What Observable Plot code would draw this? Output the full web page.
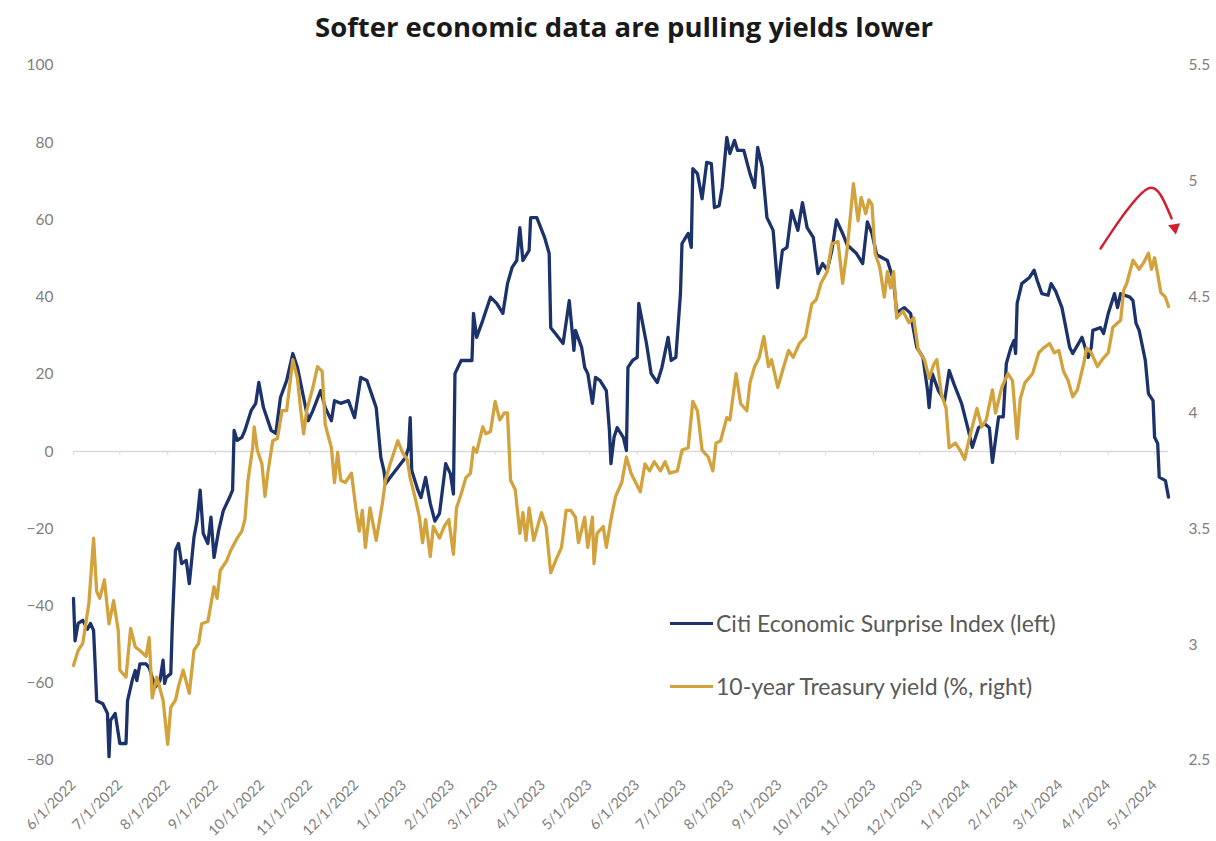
<!DOCTYPE html>
<html>
<head>
<meta charset="utf-8">
<script src="https://cdn.jsdelivr.net/npm/d3@7"></script>
<script src="https://cdn.jsdelivr.net/npm/@observablehq/plot@0.6"></script>
<style>
  html, body { margin: 0; padding: 0; background: #fff; }
  #wrap { position: relative; width: 1216px; height: 841px; overflow: hidden; font-family: "Open Sans", sans-serif; }
  #title { height: 52px; line-height: 54px; text-align: center; padding-left: 32px; font-size: 27.5px; font-weight: 700; color: #1a1a1a; white-space: nowrap; }
  #legend { position: absolute; left: 670px; top: 606px; font-family: Lato, sans-serif; font-size: 23px; color: #595959; }
  .row { display: flex; align-items: center; height: 34px; margin-bottom: 29px; white-space: nowrap; }
  .sw { width: 43px; height: 3px; margin-right: 3px; }
</style>
</head>
<body>
<div id="wrap">
  <div id="title">Softer economic data are pulling yields lower</div>
  <div id="chart"></div>
  <div id="legend"></div>
</div>
<script>
// Citi Economic Surprise Index (left axis)
const cesi = [["2022-06-01",-38],["2022-06-02",-49],["2022-06-04",-44.5],["2022-06-07",-43.7],["2022-06-10",-46],["2022-06-12",-44.5],["2022-06-14",-46.3],["2022-06-15",-55],["2022-06-16",-64.5],["2022-06-20",-65.3],["2022-06-23",-67.8],["2022-06-24",-79],["2022-06-25",-69.6],["2022-06-28",-67.8],["2022-07-01",-75.6],["2022-07-05",-75.6],["2022-07-06",-64.5],["2022-07-09",-59.3],["2022-07-11",-56.7],["2022-07-12",-59.3],["2022-07-14",-55],["2022-07-18",-55],["2022-07-20",-56],["2022-07-24",-61],["2022-07-27",-59.3],["2022-07-29",-54],["2022-07-30",-60],["2022-07-31",-58.5],["2022-08-03",-57.5],["2022-08-04",-44.5],["2022-08-06",-25.6],["2022-08-08",-23.8],["2022-08-10",-29],["2022-08-13",-28.2],["2022-08-15",-34.2],["2022-08-18",-22.2],["2022-08-20",-17.8],["2022-08-22",-10],["2022-08-24",-21.2],["2022-08-27",-23.8],["2022-08-29",-17],["2022-08-31",-27.4],["2022-09-03",-20.4],["2022-09-06",-15.3],["2022-09-10",-11.9],["2022-09-12",-10],["2022-09-13",5.5],["2022-09-15",2.9],["2022-09-18",3.7],["2022-09-20",5.5],["2022-09-24",10.6],["2022-09-27",12.5],["2022-09-29",17.9],["2022-10-02",11.4],["2022-10-07",5.5],["2022-10-10",4.7],["2022-10-13",14],["2022-10-17",18.4],["2022-10-21",25.4],["2022-10-24",21.8],["2022-10-28",14],["2022-10-31",8],["2022-11-03",10.6],["2022-11-08",15.8],["2022-11-11",11.4],["2022-11-15",8],["2022-11-17",13.2],["2022-11-21",12.5],["2022-11-26",13.2],["2022-11-30",8.8],["2022-12-04",19.2],["2022-12-08",18.4],["2022-12-14",11.4],["2022-12-17",-1.5],["2022-12-19",-4.9],["2022-12-20",-8.3],["2022-12-23",-6.7],["2022-12-28",-4.1],["2023-01-02",-1.5],["2023-01-04",1.1],["2023-01-05",8.8],["2023-01-06",-4.9],["2023-01-10",-10],["2023-01-12",-11.9],["2023-01-15",-6.7],["2023-01-18",-13.4],["2023-01-21",-18],["2023-01-24",-16],["2023-01-28",-3.1],["2023-01-31",-5.7],["2023-02-02",-11],["2023-02-03",20.2],["2023-02-07",23.6],["2023-02-14",23.6],["2023-02-15",35.8],["2023-02-17",29.6],["2023-02-21",34],["2023-02-26",40],["2023-03-02",38.4],["2023-03-06",35.8],["2023-03-09",43.5],["2023-03-12",47.7],["2023-03-15",49.5],["2023-03-17",58],["2023-03-19",49.5],["2023-03-23",52.1],["2023-03-24",60.6],["2023-03-28",60.6],["2023-04-02",55.5],["2023-04-05",51.3],["2023-04-06",32.1],["2023-04-09",30.6],["2023-04-14",28],["2023-04-18",39.1],["2023-04-20",30.6],["2023-04-21",26.2],["2023-04-22",31.4],["2023-04-26",27],["2023-04-28",21.8],["2023-04-30",20.2],["2023-05-03",12.5],["2023-05-05",19.2],["2023-05-08",18.4],["2023-05-12",15.8],["2023-05-14",5.5],["2023-05-15",-3.1],["2023-05-17",3.7],["2023-05-19",6.2],["2023-05-23",3.7],["2023-05-25",0.3],["2023-05-26",21.8],["2023-05-29",23.6],["2023-06-01",24.4],["2023-06-02",38.4],["2023-06-07",28],["2023-06-10",20.2],["2023-06-14",17.9],["2023-06-17",21.8],["2023-06-21",29.6],["2023-06-23",23.6],["2023-06-26",24.4],["2023-06-29",40.9],["2023-06-30",53.9],["2023-07-04",56.5],["2023-07-06",52.9],["2023-07-07",73.3],["2023-07-10",72],["2023-07-13",65.5],["2023-07-16",74.9],["2023-07-19",74.6],["2023-07-21",63.2],["2023-07-24",63.7],["2023-07-26",68.4],["2023-07-29",81.4],["2023-07-31",77.2],["2023-08-03",80.6],["2023-08-05",78],["2023-08-09",78],["2023-08-13",72],["2023-08-16",68.4],["2023-08-18",78.8],["2023-08-21",73.6],["2023-08-24",60.6],["2023-08-28",57.3],["2023-08-31",42.5],["2023-09-03",52.1],["2023-09-06",52.9],["2023-09-09",62.4],["2023-09-13",57.3],["2023-09-16",64.5],["2023-09-19",58],["2023-09-23",55.5],["2023-09-26",46.1],["2023-09-29",48.7],["2023-10-02",47],["2023-10-05",52],["2023-10-08",60],["2023-10-12",56.5],["2023-10-15",53.5],["2023-10-21",51.3],["2023-10-25",48.7],["2023-10-28",59.5],["2023-10-31",56.5],["2023-11-03",51],["2023-11-10",49.5],["2023-11-14",44.3],["2023-11-16",36],["2023-11-21",37.3],["2023-11-25",35.8],["2023-11-29",27],["2023-12-03",24.4],["2023-12-06",15.8],["2023-12-07",11.4],["2023-12-09",20.2],["2023-12-13",15.8],["2023-12-17",13.2],["2023-12-20",21],["2023-12-23",17.6],["2023-12-28",12.5],["2024-01-01",6.2],["2024-01-04",1.1],["2024-01-08",6.2],["2024-01-12",7.2],["2024-01-15",6.2],["2024-01-17",-2.8],["2024-01-21",9],["2024-01-24",9],["2024-01-26",22.8],["2024-01-29",27],["2024-01-31",28.8],["2024-02-01",25.4],["2024-02-02",38.4],["2024-02-05",43.5],["2024-02-10",45.1],["2024-02-13",47],["2024-02-15",44.3],["2024-02-18",40.9],["2024-02-22",40.5],["2024-02-24",43.5],["2024-02-27",41.5],["2024-03-02",37.3],["2024-03-04",33.2],["2024-03-07",27],["2024-03-09",25.4],["2024-03-15",29.6],["2024-03-19",24.4],["2024-03-21",27],["2024-03-22",31.4],["2024-03-27",32.1],["2024-03-29",30.6],["2024-04-01",35.8],["2024-04-05",40.9],["2024-04-07",37.3],["2024-04-09",40.9],["2024-04-15",40],["2024-04-17",39.1],["2024-04-19",33.2],["2024-04-21",31.4],["2024-04-25",23.6],["2024-04-27",15],["2024-04-30",13.2],["2024-05-01",3.7],["2024-05-03",2.1],["2024-05-04",-6.6],["2024-05-08",-7.5],["2024-05-10",-11.8]];

// 10-year Treasury yield, % (right axis)
const yield10 = [["2022-06-01",2.91],["2022-06-04",2.975],["2022-06-07",3.005],["2022-06-11",3.18],["2022-06-14",3.46],["2022-06-16",3.23],["2022-06-18",3.2],["2022-06-21",3.28],["2022-06-24",3.09],["2022-06-27",3.19],["2022-06-30",3.06],["2022-07-01",2.89],["2022-07-05",2.86],["2022-07-08",3.07],["2022-07-11",2.99],["2022-07-14",2.975],["2022-07-18",2.95],["2022-07-20",3.03],["2022-07-22",2.77],["2022-07-25",2.86],["2022-07-29",2.76],["2022-08-01",2.57],["2022-08-03",2.73],["2022-08-06",2.76],["2022-08-08",2.82],["2022-08-11",2.89],["2022-08-15",2.79],["2022-08-18",2.975],["2022-08-21",3.005],["2022-08-23",3.09],["2022-08-27",3.1],["2022-08-31",3.25],["2022-09-02",3.2],["2022-09-04",3.32],["2022-09-08",3.36],["2022-09-11",3.41],["2022-09-15",3.46],["2022-09-18",3.49],["2022-09-20",3.54],["2022-09-22",3.71],["2022-09-25",3.85],["2022-09-26",3.94],["2022-09-28",3.84],["2022-10-01",3.78],["2022-10-03",3.64],["2022-10-05",3.75],["2022-10-08",3.88],["2022-10-11",3.89],["2022-10-14",4.01],["2022-10-17",4.01],["2022-10-21",4.23],["2022-10-24",4.15],["2022-10-26",4.02],["2022-10-28",3.91],["2022-10-30",4.01],["2022-11-03",4.11],["2022-11-06",4.2],["2022-11-09",4.18],["2022-11-11",3.95],["2022-11-15",3.85],["2022-11-17",3.7],["2022-11-19",3.83],["2022-11-21",3.71],["2022-11-24",3.7],["2022-11-28",3.74],["2022-12-01",3.58],["2022-12-03",3.49],["2022-12-05",3.58],["2022-12-07",3.42],["2022-12-10",3.59],["2022-12-14",3.45],["2022-12-18",3.61],["2022-12-20",3.71],["2022-12-23",3.78],["2022-12-28",3.88],["2022-12-31",3.83],["2023-01-03",3.8],["2023-01-05",3.72],["2023-01-08",3.64],["2023-01-11",3.55],["2023-01-13",3.44],["2023-01-15",3.54],["2023-01-18",3.38],["2023-01-20",3.51],["2023-01-24",3.46],["2023-01-27",3.51],["2023-01-30",3.54],["2023-02-02",3.39],["2023-02-04",3.59],["2023-02-07",3.65],["2023-02-10",3.72],["2023-02-13",3.74],["2023-02-15",3.85],["2023-02-17",3.83],["2023-02-21",3.94],["2023-02-23",3.91],["2023-02-26",3.92],["2023-03-01",4.05],["2023-03-04",3.97],["2023-03-07",4.0],["2023-03-09",4.0],["2023-03-11",3.71],["2023-03-14",3.67],["2023-03-17",3.48],["2023-03-19",3.57],["2023-03-21",3.45],["2023-03-23",3.59],["2023-03-26",3.45],["2023-03-31",3.57],["2023-04-03",3.51],["2023-04-06",3.31],["2023-04-09",3.36],["2023-04-13",3.42],["2023-04-16",3.58],["2023-04-19",3.58],["2023-04-22",3.55],["2023-04-24",3.44],["2023-04-28",3.55],["2023-04-30",3.42],["2023-05-03",3.55],["2023-05-04",3.35],["2023-05-06",3.48],["2023-05-10",3.51],["2023-05-12",3.42],["2023-05-15",3.54],["2023-05-18",3.64],["2023-05-22",3.7],["2023-05-25",3.81],["2023-05-28",3.74],["2023-05-31",3.7],["2023-06-03",3.66],["2023-06-06",3.78],["2023-06-09",3.75],["2023-06-12",3.79],["2023-06-16",3.75],["2023-06-19",3.79],["2023-06-22",3.74],["2023-06-27",3.75],["2023-06-30",3.84],["2023-07-04",3.85],["2023-07-07",4.05],["2023-07-10",4.01],["2023-07-13",3.84],["2023-07-17",3.81],["2023-07-20",3.75],["2023-07-22",3.87],["2023-07-25",3.88],["2023-07-29",3.98],["2023-07-31",3.97],["2023-08-04",4.17],["2023-08-07",4.04],["2023-08-11",4.01],["2023-08-13",4.13],["2023-08-16",4.2],["2023-08-19",4.24],["2023-08-22",4.33],["2023-08-25",4.2],["2023-08-27",4.23],["2023-08-31",4.11],["2023-09-03",4.18],["2023-09-07",4.27],["2023-09-10",4.24],["2023-09-14",4.3],["2023-09-18",4.33],["2023-09-22",4.47],["2023-09-25",4.49],["2023-09-28",4.56],["2023-10-02",4.61],["2023-10-05",4.73],["2023-10-09",4.74],["2023-10-12",4.56],["2023-10-15",4.71],["2023-10-19",4.99],["2023-10-22",4.83],["2023-10-24",4.93],["2023-10-27",4.86],["2023-10-29",4.92],["2023-10-31",4.9],["2023-11-02",4.69],["2023-11-05",4.63],["2023-11-08",4.5],["2023-11-10",4.61],["2023-11-12",4.54],["2023-11-14",4.61],["2023-11-16",4.41],["2023-11-20",4.44],["2023-11-24",4.39],["2023-11-27",4.41],["2023-11-30",4.27],["2023-12-04",4.23],["2023-12-07",4.15],["2023-12-10",4.21],["2023-12-12",4.23],["2023-12-15",4.08],["2023-12-18",4.02],["2023-12-20",3.85],["2023-12-24",3.87],["2023-12-27",3.84],["2023-12-30",3.8],["2024-01-02",3.89],["2024-01-07",4.02],["2024-01-10",3.94],["2024-01-13",3.97],["2024-01-17",4.1],["2024-01-19",4.0],["2024-01-23",4.11],["2024-01-27",4.17],["2024-01-30",4.14],["2024-02-02",3.89],["2024-02-04",4.06],["2024-02-07",4.13],["2024-02-12",4.17],["2024-02-16",4.26],["2024-02-19",4.28],["2024-02-23",4.3],["2024-02-26",4.26],["2024-02-29",4.27],["2024-03-03",4.18],["2024-03-06",4.14],["2024-03-09",4.07],["2024-03-12",4.1],["2024-03-16",4.21],["2024-03-18",4.28],["2024-03-21",4.26],["2024-03-25",4.2],["2024-03-28",4.23],["2024-04-01",4.26],["2024-04-04",4.37],["2024-04-09",4.4],["2024-04-11",4.53],["2024-04-13",4.56],["2024-04-17",4.66],["2024-04-21",4.62],["2024-04-24",4.65],["2024-04-27",4.69],["2024-04-29",4.62],["2024-05-01",4.67],["2024-05-03",4.6],["2024-05-05",4.52],["2024-05-08",4.5],["2024-05-10",4.46]];

// Axis ticks
const leftTicks = [-80, -60, -40, -20, 0, 20, 40, 60, 80, 100];
const rightTicks = [2.5, 3, 3.5, 4, 4.5, 5, 5.5];
const monthTicks = ["2022-06-01","2022-07-01","2022-08-01","2022-09-01","2022-10-01","2022-11-01","2022-12-01","2023-01-01","2023-02-01","2023-03-01","2023-04-01","2023-05-01","2023-06-01","2023-07-01","2023-08-01","2023-09-01","2023-10-01","2023-11-01","2023-12-01","2024-01-01","2024-02-01","2024-03-01","2024-04-01","2024-05-01"];
const xDomain = ["2022-06-01", "2024-05-10"];

// Annotation: red curved arrow (yield units)
const arrowPath = [["2024-03-27",4.71],["2024-04-06",4.81],["2024-04-16",4.90],["2024-04-27",4.97],["2024-05-05",4.94],["2024-05-12",4.84]];
const arrowHead = [["2024-05-14",4.80]];

const seriesNames = ["Citi Economic Surprise Index (left)", "10-year Treasury yield (%, right)"];
const NAVY = "#1c326a", GOLD = "#d2a23d", RED = "#d0202f";

const parse = d3.utcParse("%Y-%m-%d");
// right axis (2.5..5.5) shares the frame with left axis (-80..100)
const toLeft = v => (v - 2.5) * 60 - 80;
const fromLeft = v => (v + 80) / 60 + 2.5;

const cesiData = cesi.map(([d, v]) => ({date: parse(d), value: v}));
const yieldData = yield10.map(([d, v]) => ({date: parse(d), value: toLeft(v)}));
const arrowData = arrowPath.map(([d, v]) => ({date: parse(d), value: toLeft(v)}));
const headData = arrowHead.map(([d, v]) => ({date: parse(d), value: toLeft(v)}));
const ticksX = monthTicks.map(parse);
const fmtDate = d => `${d.getUTCMonth() + 1}/${d.getUTCDate()}/${d.getUTCFullYear()}`;

const chart = Plot.plot({
  width: 1216,
  height: 789,
  marginLeft: 73,
  marginRight: 48,
  marginTop: 13,
  marginBottom: 81,
  style: {fontFamily: "Lato, sans-serif", fontSize: "15px", color: "#808080", background: "white", overflow: "visible"},
  x: {type: "utc", domain: xDomain.map(parse), label: null},
  y: {domain: [-80, 100], label: null},
  marks: [
    Plot.ruleY([0], {stroke: "#d9d9d9", strokeWidth: 1.5}),
    Plot.ruleX(ticksX, {x: d => d, y1: 0, y2: -1, stroke: "#d9d9d9"}),
    Plot.axisY(leftTicks, {anchor: "left", label: null, tickSize: 0, tickPadding: 20, fill: "#808080", fontSize: 15.5}),
    Plot.axisY(rightTicks.map(toLeft), {anchor: "right", label: null, tickSize: 0, tickPadding: 20, fill: "#808080", fontSize: 15.5, tickFormat: v => String(+fromLeft(v).toFixed(1))}),
    Plot.axisX(ticksX, {label: null, tickSize: 0, tickPadding: 22, tickRotate: -45, tickFormat: fmtDate, fill: "#808080", fontSize: 14.5}),
    Plot.lineY(cesiData, {x: "date", y: "value", stroke: NAVY, strokeWidth: 3.3, strokeLinejoin: "round"}),
    Plot.lineY(yieldData, {x: "date", y: "value", stroke: GOLD, strokeWidth: 3.3, strokeLinejoin: "round"}),
    Plot.lineY(arrowData, {x: "date", y: "value", stroke: RED, strokeWidth: 2.5, curve: "natural"}),
    Plot.dot(headData, {x: "date", y: "value", symbol: "triangle", r: 4.5, fill: RED, rotate: 170})
  ]
});
document.getElementById("chart").appendChild(chart);

const legend = document.getElementById("legend");
[[seriesNames[0], NAVY], [seriesNames[1], GOLD]].forEach(([name, color]) => {
  const row = document.createElement("div");
  row.className = "row";
  const sw = document.createElement("span");
  sw.className = "sw";
  sw.style.background = color;
  const label = document.createElement("span");
  label.textContent = name;
  row.appendChild(sw);
  row.appendChild(label);
  legend.appendChild(row);
});
</script>
</body>
</html>
